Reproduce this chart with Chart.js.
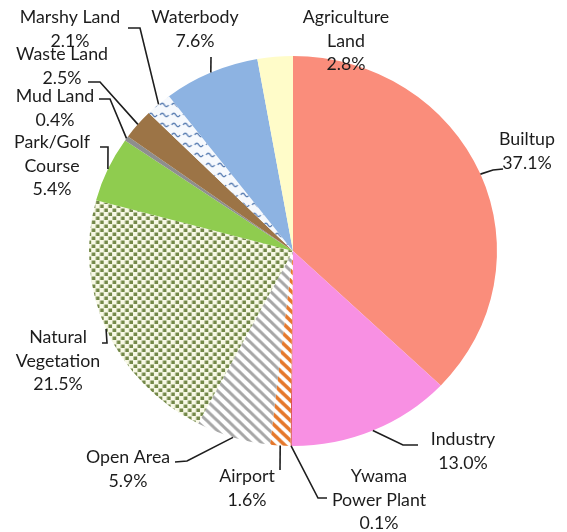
<!DOCTYPE html>
<html>
<head>
<meta charset="utf-8">
<script src="https://cdn.jsdelivr.net/npm/chart.js@4/dist/chart.umd.min.js"></script>
<style>
html, body { margin:0; padding:0; background:#fff; }
#wrap { width:567px; height:532px; }
</style>
</head>
<body>
<div id="wrap"><canvas id="pie"></canvas></div>
<script>
// data
const categories = ['Builtup','Industry','Ywama Power Plant','Airport','Open Area','Natural Vegetation',
    'Park/Golf Course','Mud Land','Waste Land','Marshy Land','Waterbody','Agriculture Land']
const shares = [37.1, 13.0, 0.1, 1.6, 5.9, 21.5, 5.4, 0.4, 2.5, 2.1, 7.6, 2.8]
const nameLines = [['Builtup'],['Industry'],['Ywama','Power Plant'],['Airport'],['Open Area'],['Natural','Vegetation'],
    ['Park/Golf','Course'],['Mud Land'],['Waste Land'],['Marshy Land'],['Waterbody'],['Agriculture','Land']]

// layout of the labels (text centre, first line) and leader elbows
const labelAt = [[527,140],[463,440],[379,477],[247,477],[128,458],[58,338],
    [52,143],[55,97],[62,55],[70,18],[195,18],[346,18]]
const elbows = [
    [[493,170],[503,169]],
    [[403,445],[418,445]],
    [[318,498],[327,498]],
    [[280,470]],
    [[187,461],[175,462]],
    [[107,343],[102,343]],
    [[108,147],[100,147]],
    [[110,99],[99,99]],
    [[100,82],[88,82]],
    [[140,28],[128,28]],
    [[211,57]],
    []
]
const SX = 1.046   // the picture is a little wider than tall
const LINE_H = 23.5

function tile(w, h, draw) {
    var c = document.createElement('canvas')
    c.width = w; c.height = h
    var g = c.getContext('2d')
    draw(g)
    return document.getElementById('pie').getContext('2d').createPattern(c, 'repeat')
}
function stripes(color, p, lw) {
    return tile(p, p, (g)=>{
        g.fillStyle = '#fff'
        g.fillRect(0,0,p,p)
        g.strokeStyle = color
        g.lineWidth = lw
        for (var k = -p; k <= p; k += p) {
            g.beginPath()
            g.moveTo(-2, k - 2)
            g.lineTo(p + 2, k + p + 2)
            g.stroke()
        }
    })
}
const dots = tile(8, 8, (g)=>{
    g.fillStyle = '#f8f9e6'
    g.fillRect(0,0,8,8)
    g.fillStyle = '#738848'
    g.fillRect(0.5,0.5,3.5,3.5)
    g.fillRect(4.5,4.5,3.5,3.5)
})
const waves = tile(11, 10, (g)=>{
    g.fillStyle = '#f6f9fd'
    g.fillRect(0,0,11,10)
    g.strokeStyle = '#5b7fb3'
    g.lineWidth = 1.4
    g.beginPath()
    g.moveTo(1,5)
    g.quadraticCurveTo(3,1.5,5,5)
    g.quadraticCurveTo(7,8.5,9,5)
    g.stroke()
})

const fills = ['#fa8d7b','#f890e3','#d9534a',stripes('#e5772a',10,3.4),stripes('#a7a7a7',10,3),dots,
    '#8fcc4f','#8e8e8e','#9c7446',waves,'#8db3e2','#fffcc9']

const stretch = {
    id: 'stretch',
    beforeDatasetsDraw(chart) {
        var a = chart.getDatasetMeta(0).data[0], c = chart.ctx
        c.save()
        c.translate(a.x, a.y)
        c.scale(SX, 1)
        c.translate(-a.x, -a.y)
    },
    afterDatasetsDraw(chart) {
        chart.ctx.restore()
    }
}

const labels = {
    id: 'labels',
    afterDraw(chart) {
        var c = chart.ctx
        chart.getDatasetMeta(0).data.forEach((arc, i)=>{
            var mid = (arc.startAngle + arc.endAngle) / 2
            var px = arc.x + Math.cos(mid) * arc.outerRadius * SX
            var py = arc.y + Math.sin(mid) * arc.outerRadius
            if (elbows[i].length) {
                c.beginPath()
                c.moveTo(px, py)
                elbows[i].forEach((p)=>c.lineTo(p[0], p[1]))
                c.strokeStyle = '#1e1e1e'
                c.lineWidth = 1.6
                c.stroke()
            }
            var lines = nameLines[i].concat([shares[i].toFixed(1) + '%'])
            c.fillStyle = '#1c1c1c'
            c.font = '17px Lato'
            c.textAlign = 'center'
            c.textBaseline = 'middle'
            lines.forEach((t, k)=>{
                c.save()
                c.translate(labelAt[i][0], labelAt[i][1] + k * LINE_H)
                c.scale(SX, 1)
                c.fillText(t, 0, 0)
                c.restore()
            })
        })
    }
}

new Chart(document.getElementById('pie'), {
    type: 'pie',
    data: {
        labels: categories,
        datasets: [{ data: shares, backgroundColor: fills, borderWidth: 0 }]
    },
    options: {
        responsive: true,
        maintainAspectRatio: false,
        animation: false,
        layout: { padding: { top: 56, bottom: 86, left: 89, right: 70 } },
        plugins: { legend: { display: false }, tooltip: { enabled: false } }
    },
    plugins: [stretch, labels]
})
</script>
</body>
</html>
